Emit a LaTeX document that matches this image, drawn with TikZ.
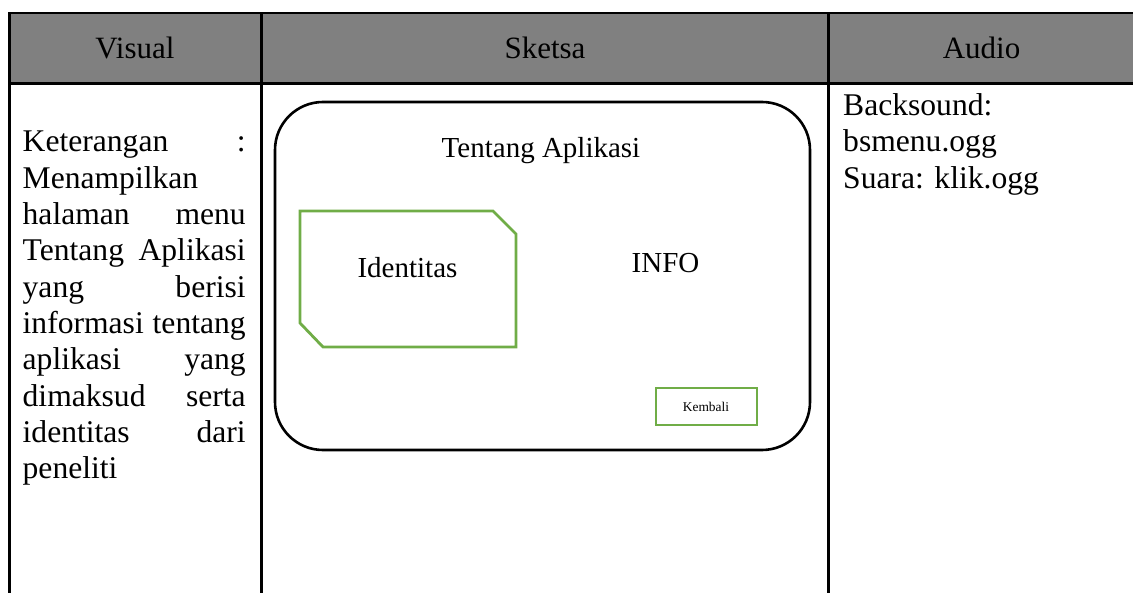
\documentclass[tikz,border=0pt]{standalone}
\usepackage{fontspec}
\setmainfont{Liberation Serif}
\definecolor{hdrgray}{HTML}{808080}
\definecolor{boxgreen}{HTML}{70AD47}
\tikzset{
  rule/.style={line width=2.6pt, black},
  frame/.style={line width=2.6pt, black, rounded corners=48pt},
  greenbox/.style={line width=2.8pt, boxgreen, line join=miter},
  headtxt/.style={font=\fontsize{31}{36}\selectfont, anchor=base, inner sep=0pt},
  celltxt/.style={font=\fontsize{31.6}{36.3}\selectfont, inner sep=0pt, anchor=base west},
  sketchtxt/.style={font=\fontsize{29}{33}\selectfont, inner sep=0pt, anchor=base},
  smalltxt/.style={font=\fontsize{13.4}{15}\selectfont, anchor=base, inner sep=0pt}
}
\begin{document}
\begin{tikzpicture}[x=1pt,y=-1pt]
\useasboundingbox (0,0) rectangle (1133,593);

% header band and table rules
\fill[hdrgray] (9.5,13) rectangle (1133,83.5);
\draw[rule] (1133,13) -- (9.5,13) -- (9.5,593);
\draw[rule] (9.5,83.5) -- (1133,83.5);
\draw[rule] (261.5,13) -- (261.5,593);
\draw[rule] (828.5,13) -- (828.5,593);

\node[headtxt] (hvisual) at (135,59) {Visual};
\node[headtxt] (hsketsa) at (545,59) {Sketsa};
\node[headtxt] (haudio) at (981.5,59) {Audio};

% description column (justified lines, after one empty line)
\node[celltxt] (desc) at (22.5,152) {\parbox[t]{223pt}{%
Keterangan\hfill:\\
Menampilkan\\
halaman\hfill menu\\
Tentang\hfill Aplikasi\\
yang\hfill berisi\\
informasi\hfill tentang\\
aplikasi\hfill yang\\
dimaksud\hfill serta\\
identitas\hfill dari\\
peneliti}};

% audio column
\node[celltxt] (audio) at (843,115.7) {\parbox[t]{285pt}{\raggedright
Backsound:\\
bsmenu.ogg\\
Suara: klik.ogg}};

% screen sketch
\draw[frame] (275,102) rectangle (810,450);
\node[sketchtxt] (title) at (541,158) {Tentang Aplikasi};

\draw[greenbox] (300,211) -- (493,211) -- (516,234) -- (516,347)
  -- (323,347) -- (300,323) -- cycle;
\node[sketchtxt] (ident) at (407.5,278) {Identitas};

\node[sketchtxt] (info) at (665.5,273) {INFO};

\draw[greenbox] (656,388) rectangle (757,425);
\node[smalltxt] (kembali) at (706,412) {Kembali};
\end{tikzpicture}
\end{document}
